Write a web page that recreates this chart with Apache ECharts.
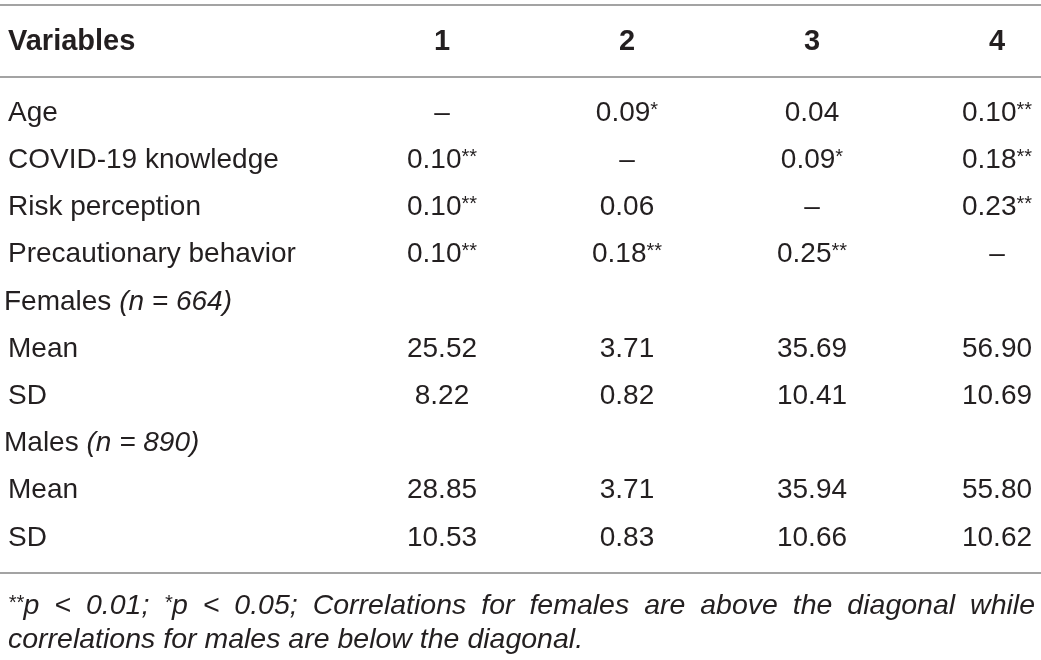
<!DOCTYPE html>
<html>
<head>
<meta charset="utf-8">
<script src="https://cdn.jsdelivr.net/npm/echarts@6/dist/echarts.min.js"></script>
<style>
html,body{margin:0;padding:0;background:#fff;}
#chart{width:1041px;height:660px;}
</style>
</head>
<body>
<div id="chart"></div>
<script>
// ---- data ----
const headerLabel = 'Variables';
const columns = ['1', '2', '3', '4'];
const rowLabels = ['Age', 'COVID-19 knowledge', 'Risk perception', 'Precautionary behavior',
  'Females (n = 664)', 'Mean', 'SD', 'Males (n = 890)', 'Mean', 'SD'];
const ageRow = ['–', '0.09*', '0.04', '0.10**'];
const knowledgeRow = ['0.10**', '–', '0.09*', '0.18**'];
const riskRow = ['0.10**', '0.06', '–', '0.23**'];
const behaviorRow = ['0.10**', '0.18**', '0.25**', '–'];
const femalesRow = ['', '', '', ''];
const femaleMean = ['25.52', '3.71', '35.69', '56.90'];
const femaleSD = ['8.22', '0.82', '10.41', '10.69'];
const malesRow = ['', '', '', ''];
const maleMean = ['28.85', '3.71', '35.94', '55.80'];
const maleSD = ['10.53', '0.83', '10.66', '10.62'];
const footnoteLine1 = '**p < 0.01; *p < 0.05; Correlations for females are above the diagonal while';
const footnoteLine2 = 'correlations for males are below the diagonal.';

const tableRows = [ageRow, knowledgeRow, riskRow, behaviorRow, femalesRow,
  femaleMean, femaleSD, malesRow, maleMean, maleSD];

// ---- layout helpers (pixel -> axis units) ----
const W = 1041, H = 660;
const colStep = 185, colOrigin = 442;   // column 1 centre
const rowStep = 47.22, rowOrigin = 113; // first body row centre
const xMin = 1 - colOrigin / colStep, xMax = xMin + W / colStep;
const yMin = -rowOrigin / rowStep, yMax = yMin + H / rowStep;
const toX = px => xMin + px / colStep;
const toY = px => (px - rowOrigin) / rowStep;

const FONT = '"Liberation Sans", Arial, Helvetica, sans-serif';
const TXT = '#231f20';
const FS = 28;
const FOOTFS = 28.5;
const SUPFS = 20;

function splitStars(s, main, sup) {
  return s.split(/(\*+)/).filter(x => x !== '')
    .map(x => x[0] === '*' ? '{' + sup + '|' + x + '}' : '{' + main + '|' + x + '}').join('');
}
function labelRich(s) {
  const i = s.indexOf('(');
  if (i >= 0) return '{v|' + s.slice(0, i) + '}{i|' + s.slice(i) + '}';
  return '{v|' + s + '}';
}
const rich = {
  v: {fontSize: FS, fontFamily: FONT, color: TXT, lineHeight: 32},
  s: {fontSize: SUPFS, fontFamily: FONT, color: TXT, lineHeight: 20, verticalAlign: 'top', padding: [3, 0, 0, 0]},
  i: {fontSize: FS, fontFamily: FONT, color: TXT, fontStyle: 'italic', lineHeight: 32},
  b: {fontSize: 29, fontFamily: FONT, color: TXT, fontWeight: 'bold', lineHeight: 32}
};

// justified footnote (first line spans the table width)
const mctx = document.createElement('canvas').getContext('2d');
function wordWidth(w) {
  let total = 0;
  w.split(/(\*+)/).filter(x => x !== '').forEach(x => {
    mctx.font = 'italic ' + (x[0] === '*' ? SUPFS : FOOTFS) + 'px ' + FONT;
    total += mctx.measureText(x).width;
  });
  return total;
}
const footRich = {
  f: {fontSize: FOOTFS, fontFamily: FONT, fontStyle: 'italic', color: TXT, lineHeight: 30},
  fs: {fontSize: SUPFS, fontFamily: FONT, fontStyle: 'italic', color: TXT, lineHeight: 20, verticalAlign: 'top', padding: [2, 0, 0, 0]}
};
function justifiedRich(s, targetWidth, key) {
  const words = s.split(' ');
  const sum = words.reduce((a, w) => a + wordWidth(w), 0);
  const gap = Math.max(5, (targetWidth - sum) / (words.length - 1));
  footRich[key] = {width: gap, fontSize: FOOTFS, fontFamily: FONT, lineHeight: 30};
  return words.map(w => splitStars(w, 'f', 'fs')).join('{' + key + '| }');
}
const foot1 = justifiedRich(footnoteLine1, 1027, 'g1');
const foot2 = '{f|' + footnoteLine2 + '}';

const cellData = [];
tableRows.forEach((row, r) => row.forEach((v, c) => {
  if (v !== '') cellData.push({value: [c + 1, r], text: v});
}));
const rowLabelData = rowLabels.map((t, r) => ({value: [toX(r === 4 || r === 7 ? 4 : 8), r], text: t}));
const headerData = [{value: [toX(8), toY(42)], text: headerLabel, label: {align: 'left'}}]
  .concat(columns.map((c, i) => ({value: [i + 1, toY(42)], text: c, label: {align: 'center'}})));

const chart = echarts.init(document.getElementById('chart'), null, {renderer: 'canvas'});
const common = {type: 'scatter', symbolSize: 0, silent: true, itemStyle: {opacity: 1}};
chart.setOption({
  backgroundColor: '#ffffff',
  animation: false,
  grid: {left: 0, right: 0, top: 0, bottom: 0},
  xAxis: {type: 'value', min: xMin, max: xMax, show: false},
  yAxis: {type: 'value', min: yMin, max: yMax, inverse: true, show: false},
  series: [
    Object.assign({}, common, {
      name: 'cells',
      data: cellData,
      label: {show: true, position: 'inside', align: 'center', verticalAlign: 'middle',
        formatter: p => splitStars(p.data.text, 'v', 's'), rich: rich},
      markLine: {
        silent: true, symbol: ['none', 'none'], label: {show: false},
        lineStyle: {color: '#a3a3a3', width: 1.8, type: 'solid', opacity: 1},
        data: [{yAxis: toY(5)}, {yAxis: toY(77)}, {yAxis: toY(573)}]
      }
    }),
    Object.assign({}, common, {
      name: 'rowLabels',
      data: rowLabelData,
      label: {show: true, position: 'inside', align: 'left', verticalAlign: 'middle',
        formatter: p => labelRich(p.data.text), rich: rich}
    }),
    Object.assign({}, common, {
      name: 'header',
      data: headerData,
      label: {show: true, position: 'inside', verticalAlign: 'middle',
        formatter: p => '{b|' + p.data.text + '}', rich: rich}
    }),
    Object.assign({}, common, {
      name: 'footnote',
      data: [{value: [toX(8), toY(606)], text: foot1}, {value: [toX(8), toY(640)], text: foot2}],
      label: {show: true, position: 'inside', align: 'left', verticalAlign: 'middle',
        formatter: p => p.data.text, rich: footRich}
    })
  ]
});
</script>
</body>
</html>
